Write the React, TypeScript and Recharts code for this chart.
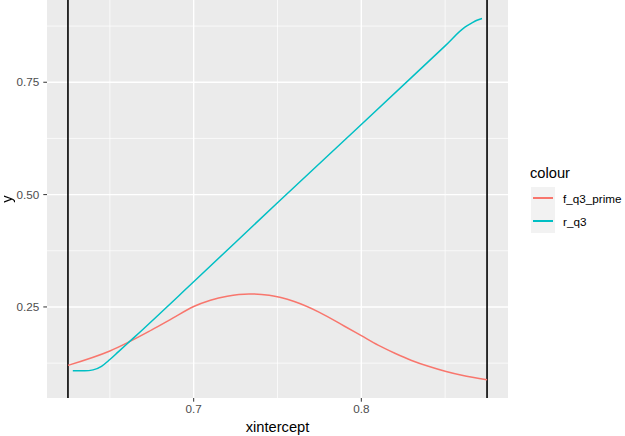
import { LineChart, Line, XAxis, YAxis, CartesianGrid, ReferenceLine } from 'recharts'

// ── Data ────────────────────────────────────────────────────────────────────

const fQ3PrimeX = [0.625, 0.65, 0.675, 0.6875, 0.7, 0.71, 0.72, 0.733, 0.745, 0.76, 0.775, 0.79, 0.8, 0.81, 0.82, 0.83, 0.84, 0.85, 0.86, 0.875]
const fQ3PrimeY = [0.120, 0.152, 0.199, 0.225, 0.251, 0.265, 0.274, 0.279, 0.276, 0.262, 0.238, 0.207, 0.186, 0.165, 0.147, 0.131, 0.118, 0.107, 0.098, 0.088]

const rQ3X = [0.6279, 0.635, 0.64, 0.645, 0.65, 0.655, 0.66, 0.665, 0.7, 0.75, 0.8, 0.85, 0.862, 0.866, 0.869, 0.872]
const rQ3Y = [0.108, 0.108, 0.110, 0.118, 0.133, 0.150, 0.167, 0.184, 0.306, 0.482, 0.656, 0.831, 0.873, 0.882, 0.888, 0.892]

const xIntercepts = [0.625, 0.875]
const xTicks = [0.7, 0.8]
const xMinor = [0.65, 0.75, 0.85]
const yTicks = [0.25, 0.5, 0.75]
const yMinor = [0.125, 0.375, 0.625, 0.875]

const seriesNames = ['f_q3_prime', 'r_q3']
const seriesColors = ['#F8766D', '#00BFC4']

const fData = fQ3PrimeX.map((x, i) => ({ x, y: fQ3PrimeY[i] }))
const rData = rQ3X.map((x, i) => ({ x, y: rQ3Y[i] }))

const FONT = '"Liberation Sans", Arial, sans-serif'

export default function App() {
  return (
    <div style={{ position: 'fixed', left: 0, top: 0, width: 625, height: 436, background: '#fff', fontFamily: FONT }}>
      <LineChart width={625} height={436} margin={{ top: 0, right: 117, bottom: 0, left: 0 }}>
        <CartesianGrid
          fill="#EBEBEB"
          fillOpacity={1}
          stroke="#FFFFFF"
          strokeWidth={0.7}
          verticalValues={xMinor}
          horizontalValues={yMinor}
        />
        <CartesianGrid
          stroke="#FFFFFF"
          strokeWidth={1.4}
          verticalValues={xTicks}
          horizontalValues={yTicks}
        />
        <XAxis
          type="number"
          dataKey="x"
          domain={[0.6125, 0.8875]}
          allowDataOverflow
          ticks={xTicks}
          tickFormatter={(v) => v.toFixed(1)}
          axisLine={false}
          tickLine={{ stroke: '#333333', strokeWidth: 1 }}
          tickSize={3.7}
          tickMargin={3}
          height={38}
          tick={{ fill: '#4D4D4D', fontSize: 11.7, fontFamily: FONT }}
        />
        <YAxis
          type="number"
          domain={[0.0474, 0.933]}
          allowDataOverflow
          ticks={yTicks}
          tickFormatter={(v) => v.toFixed(2)}
          axisLine={false}
          tickLine={{ stroke: '#333333', strokeWidth: 1 }}
          tickSize={3.7}
          tickMargin={4}
          width={47}
          tick={{ fill: '#4D4D4D', fontSize: 11.7, fontFamily: FONT }}
        />
        {xIntercepts.map((v) => (
          <ReferenceLine key={v} x={v} stroke="#000000" strokeWidth={1.6} />
        ))}
        <Line data={fData} dataKey="y" name={seriesNames[0]} type="monotone" stroke={seriesColors[0]} strokeWidth={1.5} dot={false} isAnimationActive={false} />
        <Line data={rData} dataKey="y" name={seriesNames[1]} type="monotone" stroke={seriesColors[1]} strokeWidth={1.5} dot={false} isAnimationActive={false} />
      </LineChart>

      {/* axis titles */}
      <div style={{ position: 'absolute', left: 0, width: 555, top: 418, textAlign: 'center', fontSize: 14.7, lineHeight: '18px', color: '#000' }}>
        xintercept
      </div>
      <div style={{ position: 'absolute', left: 0, top: 190, width: 14, height: 18, fontSize: 14.7, lineHeight: '18px', textAlign: 'center', transform: 'rotate(-90deg)', color: '#000' }}>
        y
      </div>

      {/* legend */}
      <div style={{ position: 'absolute', left: 530, top: 163, fontSize: 14.7, lineHeight: '20px', color: '#000' }}>colour</div>
      {seriesNames.map((name, i) => (
        <div key={name} style={{ position: 'absolute', left: 531, top: 187 + i * 23, height: 23, display: 'flex', alignItems: 'center' }}>
          <div style={{ width: 24, height: 23, background: '#F2F2F2', position: 'relative' }}>
            <div style={{ position: 'absolute', left: 2, width: 20, top: 10, height: 2, background: seriesColors[i] }} />
          </div>
          <span style={{ marginLeft: 8, fontSize: 11.7, color: '#000' }}>{name}</span>
        </div>
      ))}
    </div>
  )
}
